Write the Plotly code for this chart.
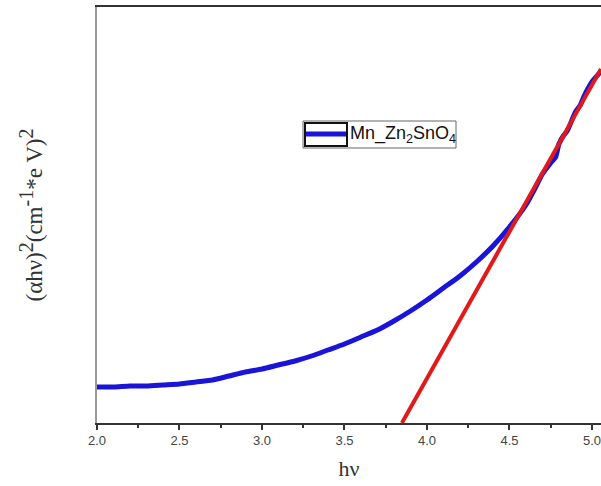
import plotly.graph_objects as go

# Blue: measured (αhν)^2 curve (arbitrary units)
hv = [2.00, 2.10, 2.20, 2.30, 2.40, 2.50, 2.60, 2.70, 2.80, 2.90, 3.00, 3.10,
      3.20, 3.30, 3.40, 3.50, 3.60, 3.70, 3.80, 3.90, 4.00, 4.10, 4.20, 4.30,
      4.40, 4.50, 4.60, 4.65, 4.70, 4.75, 4.78, 4.80, 4.83, 4.85, 4.90, 4.93,
      4.95, 5.00, 5.03, 5.055]
ahv2 = [36, 36, 37, 37, 38, 39, 41, 43, 47, 51, 54, 58,
        62, 67, 73, 79, 86, 93, 102, 112, 123, 135, 147, 161,
        177, 196, 218, 233, 249, 260, 266, 279, 288, 292, 311, 318,
        326, 341, 347, 352]

# Red: linear fit (Tauc extrapolation)
fit_x = [3.848, 5.055]
fit_y = [0, 354]

legend_label = "Mn_Zn<sub>2</sub>SnO<sub>4</sub>"
def sup(t):
    return "<sup><span style='font-size:20px'>" + t + "</span></sup>"
y_title = "(αhν)" + sup("2") + "(cm" + sup("-1") + "*e V)" + sup("2")

fig = go.Figure()
fig.add_trace(go.Scatter(x=hv, y=ahv2, mode="lines",
                         line=dict(color="#1a14d8", width=5, shape="spline", smoothing=0.6),
                         name=legend_label, showlegend=False))
fig.add_trace(go.Scatter(x=fit_x, y=fit_y, mode="lines",
                         line=dict(color="#e01a1a", width=4),
                         showlegend=False))

# Origin-style legend box
L, W, T, H = 97, 504, 7, 416
def px(x):
    return (x - L) / W
def py(y):
    return (T + H - y) / H

fig.add_shape(type="rect", xref="paper", yref="paper",
              x0=px(303), x1=px(456), y0=py(148), y1=py(121),
              line=dict(color="#666", width=1), fillcolor="white")
fig.add_shape(type="rect", xref="paper", yref="paper",
              x0=px(305), x1=px(347), y0=py(146), y1=py(123),
              line=dict(color="#111", width=2), fillcolor="white")
fig.add_shape(type="line", xref="paper", yref="paper",
              x0=px(306), x1=px(346), y0=py(134), y1=py(134),
              line=dict(color="#1a14d8", width=5))
fig.add_annotation(xref="paper", yref="paper", x=px(348), y=py(134),
                   xanchor="left", yanchor="middle", showarrow=False,
                   text=legend_label,
                   font=dict(family="Arial, Liberation Sans", size=18, color="#111"))

fig.update_layout(
    width=601, height=486,
    margin=dict(l=L, r=0, t=T, b=486 - T - H),
    paper_bgcolor="white", plot_bgcolor="white",
    showlegend=False,
    xaxis=dict(range=[2.0, 5.055], tickvals=[2.0, 2.5, 3.0, 3.5, 4.0, 4.5, 5.0],
               ticktext=["2.0", "2.5", "3.0", "3.5", "4.0", "4.5", "5.0"],
               showgrid=False, zeroline=False, automargin=False,
               showline=True, linecolor="#333", linewidth=1.5, mirror=True,
               ticks="outside", ticklen=5, tickwidth=1.5, tickcolor="#333",
               minor=dict(ticks="outside", ticklen=3, tickcolor="#333", dtick=0.25, tick0=2.0),
               tickfont=dict(family="Arial, Liberation Sans", size=13, color="#444"),
               title=dict(text="hν", font=dict(family="Liberation Serif, Times New Roman", size=22, color="#333"),
                          standoff=13)),
    yaxis=dict(range=[0, 416], showticklabels=False, ticks="", showgrid=False, zeroline=False,
               automargin=False,
               showline=True, linecolor="#999", linewidth=1.5,
               title=dict(text=y_title,
                          font=dict(family="Liberation Serif, Times New Roman", size=23, color="#333"),
                          standoff=46)),
)

fig.write_html("out.html",
               config={"displayModeBar": False},
               post_script="document.body.style.margin='0';document.body.style.padding='0';")
